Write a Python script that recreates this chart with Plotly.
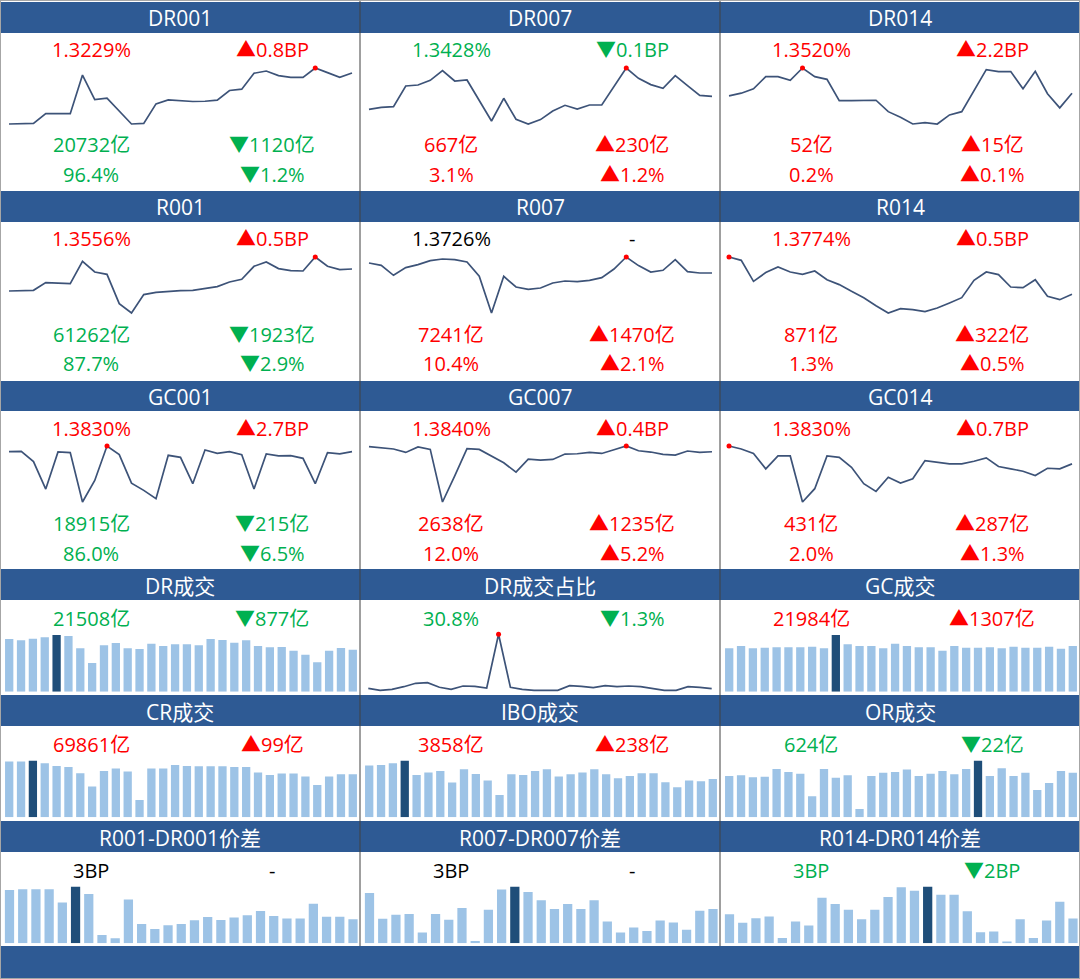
import numpy as np
import plotly.graph_objects as go

W, H = 1080, 979
BLUE = '#2E5A94'
LINE = '#3D5378'
BAR = '#9DC3E6'
BAR_MAX = '#1F4E79'
RED = '#FF0000'
GREEN = '#00B050'
BLACK = '#000000'
FONT = 'Open Sans, Noto Sans CJK SC, sans-serif'

# ---- rate series (%) ----
dr001 = [1.2288, 1.2293, 1.2299, 1.2479, 1.2479, 1.2479, 1.3192, 1.2740, 1.2764, 1.2535,
         1.2288, 1.2299, 1.2660, 1.2734, 1.2721, 1.2703, 1.2708, 1.2727, 1.2907, 1.2931,
         1.3225, 1.3266, 1.3181, 1.3149, 1.3149, 1.3322, 1.3236, 1.3149, 1.3229]
dr007 = [1.3168, 1.3208, 1.3222, 1.3634, 1.3654, 1.3748, 1.3942, 1.3734, 1.3754, 1.3348,
         1.2934, 1.3388, 1.2968, 1.2874, 1.2962, 1.3134, 1.3248, 1.3174, 1.3254, 1.3254,
         1.3628, 1.3994, 1.3788, 1.3662, 1.3588, 1.3842, 1.3642, 1.3448, 1.3428]
dr014 = [1.3481, 1.3520, 1.3586, 1.3766, 1.3766, 1.3711, 1.3895, 1.3766, 1.3726, 1.3410,
         1.3410, 1.3410, 1.3415, 1.3245, 1.3160, 1.3061, 1.3080, 1.3061, 1.3196, 1.3245,
         1.3561, 1.3871, 1.3841, 1.3841, 1.3586, 1.3846, 1.3511, 1.3301, 1.3520]
r001 = [1.3116, 1.3124, 1.3130, 1.3284, 1.3276, 1.3264, 1.3710, 1.3496, 1.3450, 1.2864,
        1.2676, 1.3044, 1.3090, 1.3110, 1.3124, 1.3130, 1.3164, 1.3204, 1.3296, 1.3350,
        1.3610, 1.3696, 1.3564, 1.3524, 1.3516, 1.3796, 1.3610, 1.3544, 1.3556]
r007 = [1.3926, 1.3880, 1.3680, 1.3834, 1.3894, 1.3974, 1.4006, 1.3994, 1.3946, 1.3660,
        1.2926, 1.3660, 1.3446, 1.3400, 1.3426, 1.3526, 1.3566, 1.3554, 1.3580, 1.3634,
        1.3806, 1.4046, 1.3874, 1.3746, 1.3780, 1.3994, 1.3754, 1.3726, 1.3726]
r014 = [1.4334, 1.4284, 1.3969, 1.4100, 1.4184, 1.4109, 1.4074, 1.4124, 1.3994, 1.3920,
        1.3819, 1.3724, 1.3604, 1.3494, 1.3559, 1.3544, 1.3514, 1.3568, 1.3644, 1.3724,
        1.3984, 1.4109, 1.4070, 1.3884, 1.3874, 1.3994, 1.3744, 1.3694, 1.3774]
gc001 = [1.3830, 1.3860, 1.2830, 1.0060, 1.3800, 1.3730, 0.8760, 1.0930, 1.4400, 1.3530,
         1.0660, 0.9930, 0.9100, 1.3460, 1.3260, 1.0600, 1.4000, 1.3660, 1.3830, 1.3530,
         1.0060, 1.3600, 1.3400, 1.3430, 1.3160, 1.0600, 1.3730, 1.3600, 1.3830]
gc007 = [1.4090, 1.4040, 1.3975, 1.3805, 1.4075, 1.3955, 1.1340, 1.2640, 1.3990, 1.3955,
         1.3640, 1.3290, 1.2825, 1.3475, 1.3425, 1.3455, 1.3725, 1.3740, 1.3805, 1.3755,
         1.3940, 1.4125, 1.3890, 1.3825, 1.3705, 1.3675, 1.3875, 1.3805, 1.3840]
gc014 = [1.4190, 1.4130, 1.4042, 1.3730, 1.3990, 1.3990, 1.3062, 1.3330, 1.3990, 1.3962,
         1.3762, 1.3430, 1.3276, 1.3562, 1.3442, 1.3530, 1.3896, 1.3856, 1.3830, 1.3830,
         1.3882, 1.3950, 1.3776, 1.3730, 1.3682, 1.3596, 1.3742, 1.3730, 1.3830]
dr_share = [31.2, 29.2, 30.2, 32.8, 36.2, 36.8, 32.2, 30.2, 33.5, 33.2,
            31.5, 85.2, 32.2, 30.2, 29.2, 29.2, 29.2, 33.8, 33.2, 31.8,
            33.8, 32.8, 33.5, 32.8, 30.8, 29.2, 29.2, 32.8, 32.2, 30.8]

# ---- volumes (亿) ----
dr_vol = [26971, 26288, 27141, 27824, 29019, 28507, 22191, 14680, 23727, 24922,
          22191, 21850, 24581, 23386, 24239, 24239, 23727, 26971, 26459, 25093,
          26288, 23386, 22703, 22874, 20996, 18948, 15022, 20996, 22385, 21508]
gc_vol = [20865, 21989, 20865, 21186, 21347, 21347, 21347, 21668, 20865, 27285,
          22791, 21989, 21989, 20865, 23112, 21989, 21347, 21347, 19742, 21989,
          21186, 21186, 21347, 20865, 21668, 21186, 21186, 21668, 20677, 21984]
cr_vol = [90447, 90447, 92072, 87739, 83406, 81782, 71491, 49827, 75282, 79074,
          74199, 28163, 79074, 79074, 85031, 83406, 82865, 82865, 82865, 81782,
          81782, 72574, 68783, 70950, 70950, 66075, 52535, 66075, 69762, 69861]
ibo_vol = [5200, 5267, 5435, 5703, 4261, 4496, 4663, 3489, 4831, 4361,
           3690, 2248, 4328, 4261, 4663, 4831, 4093, 4328, 4496, 4831,
           4328, 3925, 4160, 4429, 4429, 3523, 3019, 3690, 3620, 3858]
or_vol = [577, 587, 559, 568, 675, 633, 610, 293, 675, 554,
          587, 116, 577, 624, 633, 666, 577, 610, 647, 601,
          675, 792, 577, 685, 577, 624, 382, 480, 646, 624]

# ---- spreads (BP) ----
spread_001 = [7.27, 7.36, 7.36, 7.36, 5.54, 7.72, 6.72, 1.14, 0.68, 5.95,
              2.63, 1.95, 2.45, 2.63, 3.13, 3.59, 3.18, 3.50, 3.82, 4.40,
              3.72, 3.36, 3.36, 5.40, 3.63, 3.63, 3.27]
spread_007 = [4.38, 2.13, 2.48, 2.54, 0.93, 2.54, 2.04, 3.07, 0.20, 2.92,
              4.67, 4.93, 4.47, 3.74, 2.98, 3.42, 2.98, 3.74, 1.90, 0.93,
              1.37, 1.08, 1.99, 1.81, 1.17, 2.83, 2.98]
spread_014 = [2.98, 2.09, 2.57, 2.74, 0.55, 2.23, 1.82, 4.66, 4.01, 3.43,
              2.47, 3.43, 4.73, 5.73, 5.38, 5.80, 4.97, 4.97, 3.29, 1.13,
              1.20, 0.10, 2.47, 0.55, 2.33, 4.25, 2.54]

# ---- panel texts ----
titles = ['DR001', 'DR007', 'DR014', 'R001', 'R007', 'R014', 'GC001', 'GC007', 'GC014',
          'DR成交', 'DR成交占比', 'GC成交', 'CR成交', 'IBO成交', 'OR成交',
          'R001-DR001价差', 'R007-DR007价差', 'R014-DR014价差']
rate_txt = ['1.3229%', '1.3428%', '1.3520%', '1.3556%', '1.3726%', '1.3774%', '1.3830%', '1.3840%', '1.3830%']
rate_chg = ['▲0.8BP', '▼0.1BP', '▲2.2BP', '▲0.5BP', '-', '▲0.5BP', '▲2.7BP', '▲0.4BP', '▲0.7BP']
amt_txt = ['20732亿', '667亿', '52亿', '61262亿', '7241亿', '871亿', '18915亿', '2638亿', '431亿']
amt_chg = ['▼1120亿', '▲230亿', '▲15亿', '▼1923亿', '▲1470亿', '▲322亿', '▼215亿', '▲1235亿', '▲287亿']
pct_txt = ['96.4%', '3.1%', '0.2%', '87.7%', '10.4%', '1.3%', '86.0%', '12.0%', '2.0%']
pct_chg = ['▼1.2%', '▲1.2%', '▲0.1%', '▼2.9%', '▲2.1%', '▲0.5%', '▼6.5%', '▲5.2%', '▲1.3%']
low_txt = ['21508亿', '30.8%', '21984亿', '69861亿', '3858亿', '624亿', '3BP', '3BP', '3BP']
low_chg = ['▼877亿', '▼1.3%', '▲1307亿', '▲99亿', '▲238亿', '▼22亿', '-', '-', '▼2BP']


def tone(s):
    if s.startswith('▲'):
        return RED
    if s.startswith('▼'):
        return GREEN
    return BLACK


rate_col = [tone(c) for c in rate_chg]
amt_col = [tone(c) for c in amt_chg]
pct_col = [tone(c) for c in pct_chg]
low_col = [tone(c) for c in low_chg]

fig = go.Figure()
n_ax = [0]


def add_axes(x0, x1, y_top, y_bot, xr, yr):
    n_ax[0] += 1
    s = '' if n_ax[0] == 1 else str(n_ax[0])
    fig.update_layout(**{
        'xaxis' + s: dict(domain=[x0 / W, x1 / W], range=xr, visible=False,
                          fixedrange=True, anchor='y' + s),
        'yaxis' + s: dict(domain=[1 - y_bot / H, 1 - y_top / H], range=yr, visible=False,
                          fixedrange=True, anchor='x' + s),
    })
    return 'x' + s, 'y' + s


def line_panel(col, vals, y_top, y_bot, first=9, last=352):
    x0 = col * 360
    v = np.array(vals, dtype=float)
    nn = len(v)
    step = (last - first) / (nn - 1)
    xr = [-first / step, nn - 1 + (360 - last) / step]
    pad = (v.max() - v.min()) * 3 / (y_bot - y_top)
    xa, ya = add_axes(x0, x0 + 360, y_top - 3, y_bot + 3, xr, [v.min() - pad, v.max() + pad])
    fig.add_trace(go.Scatter(x=list(range(nn)), y=v, mode='lines',
                             line=dict(color=LINE, width=1.7), xaxis=xa, yaxis=ya,
                             hoverinfo='skip', showlegend=False))
    i = int(v.argmax())
    fig.add_trace(go.Scatter(x=[i], y=[v[i]], mode='markers', marker=dict(color=RED, size=5),
                             xaxis=xa, yaxis=ya, cliponaxis=False, showlegend=False))


def bar_panel(col, vals, y_bot, first, last):
    x0 = col * 360
    v = np.array(vals, dtype=float)
    nn = len(v)
    step = (last - first) / (nn - 1)
    xr = [-first / step, nn - 1 + (360 - last) / step]
    xa, ya = add_axes(x0, x0 + 360, y_bot - 56.7, y_bot, xr, [0, v.max()])
    colors = [BAR_MAX if i == int(v.argmax()) else BAR for i in range(nn)]
    fig.add_trace(go.Bar(x=list(range(nn)), y=v, marker=dict(color=colors, line_width=0),
                         xaxis=xa, yaxis=ya, hoverinfo='skip', showlegend=False))


# row layout (pixels): header top, header bottom
rows = [(2, 33), (191, 222), (381, 411), (569, 600), (695, 726), (821, 852)]

shapes = []
annotations = []


def text(x, y, s, color, size=20):
    annotations.append(dict(x=x / W, y=1 - y / H, xref='paper', yref='paper', text=s,
                            showarrow=False, xanchor='center', yanchor='middle',
                            font=dict(family=FONT, size=size, color=color)))


for r, (ht, hb) in enumerate(rows):
    shapes.append(dict(type='rect', xref='paper', yref='paper', x0=0, x1=1,
                       y0=1 - hb / H, y1=1 - ht / H, fillcolor=BLUE, line_width=0, layer='below'))
    for c in range(3):
        text(c * 360 + 180, (ht + hb) / 2 + 1, titles[r * 3 + c], 'white', 21)

# bottom bar
shapes.append(dict(type='rect', xref='paper', yref='paper', x0=0, x1=1,
                   y0=0, y1=1 - 946 / H, fillcolor=BLUE, line_width=0, layer='below'))

# rate panels (rows 1-3)
rate_series = [dr001, dr007, dr014, r001, r007, r014, gc001, gc007, gc014]
for k, ser in enumerate(rate_series):
    r, c = divmod(k, 3)
    hb = rows[r][1]
    line_panel(c, ser, hb + 35, hb + 91)
    lx, rx = c * 360 + 91, c * 360 + 272
    text(lx, hb + 17, rate_txt[k], rate_col[k])
    text(rx, hb + 17, rate_chg[k], rate_col[k])
    text(lx, hb + 112, amt_txt[k], amt_col[k])
    text(rx, hb + 112, amt_chg[k], amt_col[k])
    text(lx, hb + 142, pct_txt[k], pct_col[k])
    text(rx, hb + 142, pct_chg[k], pct_col[k])

# row 4-6
bar_panel(0, dr_vol, 691.7, 9.2, 352.8)
line_panel(1, dr_share, 634.3, 690.3, first=8.3, last=351.7)
bar_panel(2, gc_vol, 691.7, 9.2, 352.8)
bar_panel(0, cr_vol, 817.3, 9.2, 352.8)
bar_panel(1, ibo_vol, 817.3, 9.2, 352.8)
bar_panel(2, or_vol, 817.3, 9.2, 352.8)
bar_panel(0, spread_001, 943.3, 9.5, 353)
bar_panel(1, spread_007, 943.3, 9.5, 353)
bar_panel(2, spread_014, 943.3, 9.5, 353)

low_y = [618, 744, 870]
for k in range(9):
    r, c = divmod(k, 3)
    text(c * 360 + 91, low_y[r], low_txt[k], low_col[k])
    text(c * 360 + 272, low_y[r], low_chg[k], low_col[k])

# column separators and frame
for xs in (360, 720):
    shapes.append(dict(type='line', xref='paper', yref='paper', x0=xs / W, x1=xs / W,
                       y0=1 - 946 / H, y1=1, line=dict(color='#404040', width=1)))
shapes.append(dict(type='rect', xref='paper', yref='paper', x0=0, x1=1, y0=0, y1=1,
                   line=dict(color='#A6A6A6', width=2), fillcolor='rgba(0,0,0,0)'))

fig.update_layout(width=W, height=H, margin=dict(l=0, r=0, t=0, b=0),
                  paper_bgcolor='white', plot_bgcolor='rgba(0,0,0,0)',
                  bargap=0.3, showlegend=False, shapes=shapes, annotations=annotations)

fig.write_html("out.html", config={'displayModeBar': False},
               post_script="document.body.style.margin='0';document.body.style.overflow='hidden';")
